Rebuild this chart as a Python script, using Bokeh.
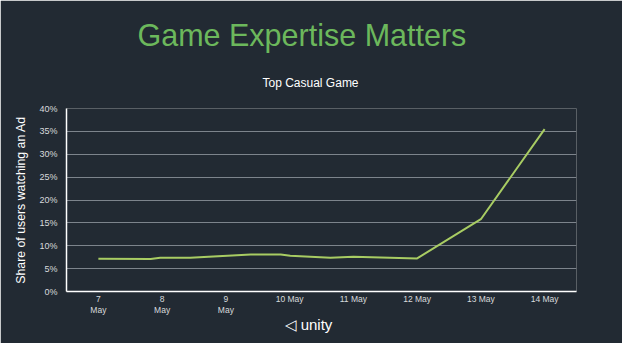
from bokeh.plotting import figure
from bokeh.models import (FixedTicker, Range1d, Title)
from bokeh.embed import file_html
from bokeh.resources import INLINE

# ---- data ----
day_pos = [7.0, 7.82, 7.97, 8.44, 9.39, 9.86, 10.01, 10.64, 11.0, 12.0, 13.0, 14.0]
share_pct = [7.15, 7.1, 7.37, 7.37, 8.1, 8.1, 7.8, 7.37, 7.58, 7.24, 15.8, 35.5]
tick_days = [7, 8, 9, 10, 11, 12, 13, 14]
tick_labels = ["7\nMay", "8\nMay", "9\nMay", "10 May", "11 May", "12 May", "13 May", "14 May"]
y_ticks = [0, 5, 10, 15, 20, 25, 30, 35, 40]

BG = "#222a33"
FONT = "Liberation Sans"

p = figure(width=622, height=343, output_backend="svg", toolbar_location=None,
           x_range=Range1d(6.5, 14.5), y_range=Range1d(0, 40),
           background_fill_color=BG, border_fill_color=BG,
           min_border_left=66, min_border_right=46, min_border_top=108,
           min_border_bottom=52, outline_line_color=None)

p.line(day_pos, share_pct, line_color="#a8cc63", line_width=2)

# y axis
p.yaxis.ticker = FixedTicker(ticks=y_ticks)
p.yaxis.major_label_overrides = {t: f"{t}%" for t in y_ticks}
p.yaxis.major_label_text_color = "#d8dadc"
p.yaxis.major_label_text_font = FONT
p.yaxis.major_label_text_font_size = "9px"
p.yaxis.major_tick_line_color = None
p.yaxis.minor_tick_line_color = None
p.yaxis.axis_line_color = "white"
p.yaxis.axis_line_width = 1.5
p.yaxis.major_label_standoff = 3
p.yaxis.axis_label = "Share of users watching an Ad"
p.yaxis.axis_label_text_color = "white"
p.yaxis.axis_label_text_font = FONT
p.yaxis.axis_label_text_font_style = "normal"
p.yaxis.axis_label_text_font_size = "12.3px"
p.yaxis.axis_label_standoff = 8

# x axis
p.xaxis.ticker = FixedTicker(ticks=tick_days)
p.xaxis.major_label_overrides = {d: l for d, l in zip(tick_days, tick_labels)}
p.xaxis.major_label_text_color = "#d8dadc"
p.xaxis.major_label_text_font = FONT
p.xaxis.major_label_text_font_size = "8.5px"
p.xaxis.major_label_text_line_height = 1.1
p.xaxis.major_tick_line_color = None
p.xaxis.minor_tick_line_color = None
p.xaxis.axis_line_color = "white"
p.xaxis.axis_line_width = 1.5
p.xaxis.major_label_standoff = -4

p.xgrid.grid_line_color = None
p.ygrid.grid_line_color = "#7d848c"
p.ygrid.grid_line_width = 1

sub = Title(text="Top Casual Game", text_color="white", text_font=FONT,
            text_font_size="12px", text_font_style="normal", align="left",
            offset=196, standoff=38)
p.add_layout(sub, "above")
ttl = Title(text="Game Expertise Matters", text_color="#6cb85c", text_font=FONT,
            text_font_size="30.5px", text_font_style="normal", align="left",
            offset=71, standoff=6)
p.add_layout(ttl, "above")

logo = Title(text="◁ unity", text_color="white", text_font=FONT,
             text_font_size="15px", text_font_style="normal", align="left",
             offset=218, standoff=-8)
p.add_layout(logo, "below")

html = file_html(p, INLINE)
html = html.replace("<body>", '<body style="background-color:%s;">' % BG, 1)
open("out.html", "w").write(html)
